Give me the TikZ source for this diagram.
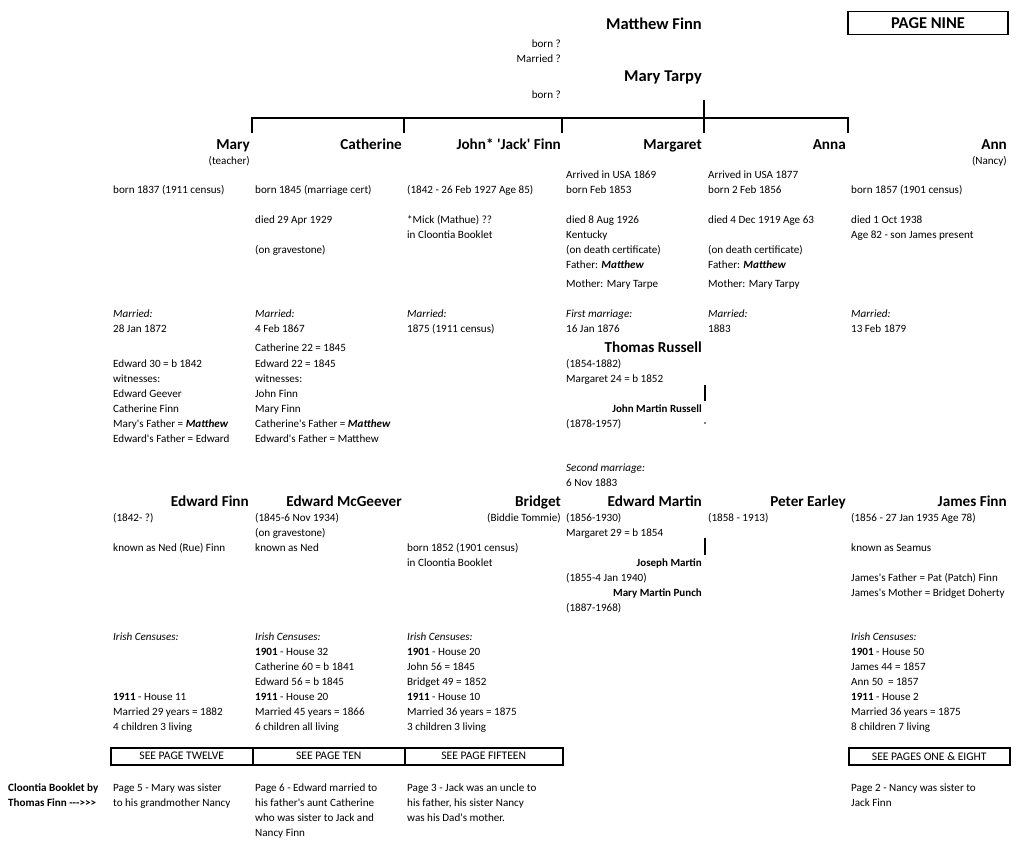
\documentclass[tikz,border=0pt]{standalone}
\usepackage{fontspec}
\setmainfont{Carlito}[Ligatures=TeXOff]
\newcommand\BI[1]{\textbf{\textit{#1}}}
\newcommand\LT[4]{\node[lt] (#1) at (#2,#3) {#4};}
\newcommand\RT[4]{\node[rt] (#1) at (#2,#3) {#4};}
\newcommand\HD[4]{\node[hd] (#1) at (#2,#3) {#4};}
\newcommand\HT[4]{\node[ht] (#1) at (#2,#3) {#4};}
\newcommand\SB[4]{\node[sb] (#1) at (#2,#3) {#4};}
\begin{document}
\begin{tikzpicture}[x=1pt,y=-1pt,
  lt/.style={font=\fontsize{11.1}{13}\selectfont, anchor=base west, inner sep=0pt},
  lb/.style={font=\fontsize{11.1}{13}\selectfont\bfseries, anchor=base west, inner sep=0pt},
  rt/.style={font=\fontsize{11.1}{13}\selectfont, anchor=base east, inner sep=0pt},
  hd/.style={font=\fontsize{15.2}{18}\selectfont\bfseries, anchor=base east, inner sep=0pt},
  ht/.style={font=\fontsize{16.5}{19}\selectfont\bfseries, anchor=base east, inner sep=0pt},
  sb/.style={font=\fontsize{11}{13}\selectfont\bfseries, anchor=base east, inner sep=0pt},
  ln/.style={line width=1.8pt},
  seebox/.style={draw, line width=1.5pt, font=\fontsize{11.6}{13}\selectfont, inner sep=0pt, minimum height=17pt, anchor=north west}]
\useasboundingbox (0,0) rectangle (1024,844);
% top
\HT{matthew}{702}{29}{Matthew Finn}
\RT{mbrn}{561}{47}{born ?}
\RT{mmar}{561}{62}{Married ?}
\HT{marytarpy}{702}{81}{Mary Tarpy}
\RT{mtbrn}{561}{98}{born ?}
\node[draw, line width=1.5pt, minimum width=160pt, minimum height=23pt, inner sep=0pt,
  font=\fontsize{16.5}{18}\selectfont\bfseries] (pg) at (928,23) {PAGE NINE};
% bracket
\coordinate (par) at (704,100);
\coordinate (bar) at (704,118);
\coordinate (bl) at (252,118);
\coordinate (br) at (848,118);
\coordinate (k1) at (252,133);
\coordinate (k2) at (404,133);
\coordinate (k3) at (562,133);
\coordinate (k4) at (704,133);
\coordinate (k5) at (848,133);
\draw[ln] (par) -- (bar);
\draw[ln, line join=miter] (k1) -- (bl) -- (br) -- (k5);
\draw[ln] (k2) -- (k2 |- bl);
\draw[ln] (k3) -- (k3 |- bl);
\draw[ln] (k4) -- (k4 |- bl);
% children
\HD{mary}{250}{149}{Mary}
\HD{cath}{402}{149}{Catherine}
\HD{john}{561}{149}{John* 'Jack' Finn}
\HD{marg}{702}{149}{Margaret}
\HD{anna}{846}{149}{Anna}
\HD{ann}{1007}{149}{Ann}
\RT{teach}{250}{164}{(teacher)}
\RT{nancy}{1007}{164}{(Nancy)}
\LT{a178e}{566}{178}{Arrived in USA 1869}
\LT{a178f}{708}{178}{Arrived in USA 1877}
\LT{a193b}{113}{193}{born 1837 (1911 census)}
\LT{a193c}{255}{193}{born 1845 (marriage cert)}
\LT{a193d}{407}{193}{(1842 - 26 Feb 1927 Age 85)}
\LT{a193e}{566}{193}{born Feb 1853}
\LT{a193f}{708}{193}{born 2 Feb 1856}
\LT{a193g}{851}{193}{born 1857 (1901 census)}
\LT{a223c}{255}{223}{died 29 Apr 1929}
\LT{a223d}{407}{223}{*Mick (Mathue) ??}
\LT{a223e}{566}{223}{died 8 Aug 1926}
\LT{a223f}{708}{223}{died 4 Dec 1919 Age 63}
\LT{a223g}{851}{223}{died 1 Oct 1938}
\LT{a238d}{407}{238}{in Cloontia Booklet}
\LT{a238e}{566}{238}{Kentucky}
\LT{a238g}{851}{238}{Age 82 - son James present}
\LT{a253c}{255}{253}{(on gravestone)}
\LT{a253e}{566}{253}{(on death certificate)}
\LT{a253f}{708}{253}{(on death certificate)}
\LT{a268e}{566}{268}{Father: \BI{Matthew}}
\LT{a268f}{708}{268}{Father: \BI{Matthew}}
\LT{a287e}{566}{287}{Mother: Mary Tarpe}
\LT{a287f}{708}{287}{Mother: Mary Tarpy}
% marriages
\LT{a317b}{113}{317}{\textit{Married:}}
\LT{a317c}{255}{317}{\textit{Married:}}
\LT{a317d}{407}{317}{\textit{Married:}}
\LT{a317e}{566}{317}{\textit{First marriage:}}
\LT{a317f}{708}{317}{\textit{Married:}}
\LT{a317g}{851}{317}{\textit{Married:}}
\LT{a332b}{113}{332}{28 Jan 1872}
\LT{a332c}{255}{332}{4 Feb 1867}
\LT{a332d}{407}{332}{1875 (1911 census)}
\LT{a332e}{566}{332}{16 Jan 1876}
\LT{a332f}{708}{332}{1883}
\LT{a332g}{851}{332}{13 Feb 1879}
\LT{a351c}{255}{351}{Catherine 22 = 1845}
\HD{thomas}{702}{352}{Thomas Russell}
\LT{a367b}{113}{367}{Edward 30 = b 1842}
\LT{a367c}{255}{367}{Edward 22 = 1845}
\LT{a367e}{566}{367}{(1854-1882)}
\LT{a382b}{113}{382}{witnesses:}
\LT{a382c}{255}{382}{witnesses:}
\LT{a382e}{566}{382}{Margaret 24 = b 1852}
\LT{a397b}{113}{397}{Edward Geever}
\LT{a397c}{255}{397}{John Finn}
\LT{a412b}{113}{412}{Catherine Finn}
\LT{a412c}{255}{412}{Mary Finn}
\SB{jmr}{702}{412}{John Martin Russell}
\LT{a427b}{113}{427}{Mary's Father = \BI{Matthew}}
\LT{a427c}{255}{427}{Catherine's Father = \BI{Matthew}}
\LT{a427e}{566}{427}{(1878-1957)}
\LT{a442b}{113}{442}{Edward's Father = Edward}
\LT{a442c}{255}{442}{Edward's Father = Matthew}
\LT{a471e}{566}{471}{\textit{Second marriage:}}
\LT{a486e}{566}{486}{6 Nov 1883}
\coordinate (tr1) at (705,385);
\coordinate (tr2) at (705,401);
\draw[ln] (tr1) -- (tr2);
\fill (705,423) circle (0.8pt);
% spouses
\HD{efinn}{249}{506}{Edward Finn}
\HD{emcg}{402}{506}{Edward McGeever}
\HD{bridget}{561}{506}{Bridget}
\HD{emartin}{702}{506}{Edward Martin}
\HD{peter}{846}{506}{Peter Earley}
\HD{james}{1007}{506}{James Finn}
\LT{a521b}{113}{521}{(1842- ?)}
\LT{a521c}{255}{521}{(1845-6 Nov 1934)}
\RT{biddie}{561}{521}{(Biddie Tommie)}
\LT{a521e}{566}{521}{(1856-1930)}
\LT{a521f}{708}{521}{(1858 - 1913)}
\LT{a521g}{851}{521}{(1856 - 27 Jan 1935 Age 78)}
\LT{a536c}{255}{536}{(on gravestone)}
\LT{a536e}{566}{536}{Margaret 29 = b 1854}
\LT{a551b}{113}{551}{known as Ned (Rue) Finn}
\LT{a551c}{255}{551}{known as Ned}
\LT{a551d}{407}{551}{born 1852 (1901 census)}
\LT{a551g}{851}{551}{known as Seamus}
\LT{a566d}{407}{566}{in Cloontia Booklet}
\SB{joseph}{702}{566}{Joseph Martin}
\LT{a581e}{566}{581}{(1855-4 Jan 1940)}
\LT{a581g}{851}{581}{James's Father = Pat (Patch) Finn}
\SB{mmp}{702}{596}{Mary Martin Punch}
\LT{a596g}{851}{596}{James's Mother = Bridget Doherty}
\LT{a611e}{566}{611}{(1887-1968)}
\coordinate (em1) at (705,538);
\coordinate (em2) at (705,555);
\draw[ln] (em1) -- (em2);
% censuses
\LT{a640b}{113}{640}{\textit{Irish Censuses:}}
\LT{a640c}{255}{640}{\textit{Irish Censuses:}}
\LT{a640d}{407}{640}{\textit{Irish Censuses:}}
\LT{a640g}{851}{640}{\textit{Irish Censuses:}}
\LT{a655c}{255}{655}{\textbf{1901} - House 32}
\LT{a655d}{407}{655}{\textbf{1901} - House 20}
\LT{a655g}{851}{655}{\textbf{1901} - House 50}
\LT{a670c}{255}{670}{Catherine 60 = b 1841}
\LT{a670d}{407}{670}{John 56 = 1845}
\LT{a670g}{851}{670}{James 44 = 1857}
\LT{a685c}{255}{685}{Edward 56 = b 1845}
\LT{a685d}{407}{685}{Bridget 49 = 1852}
\LT{a685g}{851}{685}{Ann 50 \ = 1857}
\LT{a700b}{113}{700}{\textbf{1911} - House 11}
\LT{a700c}{255}{700}{\textbf{1911} - House 20}
\LT{a700d}{407}{700}{\textbf{1911} - House 10}
\LT{a700g}{851}{700}{\textbf{1911} - House 2}
\LT{a715b}{113}{715}{Married 29 years = 1882}
\LT{a715c}{255}{715}{Married 45 years = 1866}
\LT{a715d}{407}{715}{Married 36 years = 1875}
\LT{a715g}{851}{715}{Married 36 years = 1875}
\LT{a730b}{113}{730}{4 children 3 living}
\LT{a730c}{255}{730}{6 children all living}
\LT{a730d}{407}{730}{3 children 3 living}
\LT{a730g}{851}{730}{8 children 7 living}
% see boxes
\node[seebox, minimum width=142pt] (s1) at (110,747) {SEE PAGE TWELVE};
\node[seebox, minimum width=152pt] (s2) at (252,747) {SEE PAGE TEN};
\node[seebox, minimum width=158pt] (s3) at (404,747) {SEE PAGE FIFTEEN};
\node[seebox, minimum width=161pt] (s4) at (848,747) {SEE PAGES ONE \& EIGHT};
% booklet
\node[lb] (cb1) at (8,791) {Cloontia Booklet by};
\node[lb] (cb2) at (8,806) {Thomas Finn --->>>};
\LT{a791b}{113}{791}{Page 5 - Mary was sister}
\LT{a791c}{255}{791}{Page 6 - Edward married to}
\LT{a791d}{407}{791}{Page 3 - Jack was an uncle to}
\LT{a791g}{851}{791}{Page 2 - Nancy was sister to}
\LT{a806b}{113}{806}{to his grandmother Nancy}
\LT{a806c}{255}{806}{his father's aunt Catherine}
\LT{a806d}{407}{806}{his father, his sister Nancy}
\LT{a806g}{851}{806}{Jack Finn}
\LT{a821c}{255}{821}{who was sister to Jack and}
\LT{a821d}{407}{821}{was his Dad's mother.}
\LT{a836c}{255}{836}{Nancy Finn}
\end{tikzpicture}
\end{document}
